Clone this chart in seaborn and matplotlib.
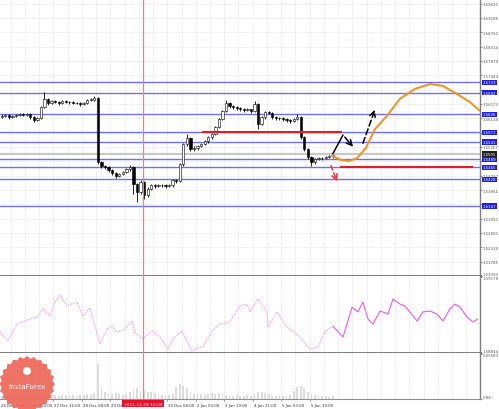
import numpy as np
import pandas as pd
import matplotlib
matplotlib.use("Agg")
import matplotlib.pyplot as plt
import matplotlib.transforms as mtransforms
from matplotlib.patches import Polygon, Circle
import seaborn as sns

# 2-hour bars, close / high / low
close = [1.5621, 1.5624, 1.5618, 1.5621, 1.5624, 1.5627, 1.5624, 1.5627, 1.5618, 1.5609,
         1.5615, 1.5648, 1.5673, 1.5660, 1.5667, 1.5663, 1.5660, 1.5667, 1.5663, 1.5663,
         1.5660, 1.5660, 1.5657, 1.5660, 1.5670, 1.5670, 1.5676, 1.5481, 1.5469, 1.5466,
         1.5457, 1.5448, 1.5439, 1.5445, 1.5451, 1.5460, 1.5466, 1.5414, 1.5390, 1.5421,
         1.5381, 1.5399, 1.5411, 1.5408, 1.5411, 1.5411, 1.5408, 1.5411, 1.5427, 1.5424,
         1.5475, 1.5536, 1.5554, 1.5521, 1.5524, 1.5530, 1.5536, 1.5545, 1.5557, 1.5566,
         1.5588, 1.5612, 1.5636, 1.5660, 1.5651, 1.5648, 1.5645, 1.5642, 1.5639, 1.5642,
         1.5636, 1.5657, 1.5597, 1.5618, 1.5633, 1.5630, 1.5618, 1.5615, 1.5615, 1.5612,
         1.5609, 1.5606, 1.5612, 1.5618, 1.5557, 1.5521, 1.5496, 1.5481, 1.5490, 1.5493,
         1.5493, 1.5496, 1.5500, 1.5500]
high = [1.5627, 1.5628, 1.5626, 1.5625, 1.5628, 1.5631, 1.5630, 1.5630, 1.5629, 1.5620,
        1.5618, 1.5652, 1.5694, 1.5676, 1.5670, 1.5668, 1.5666, 1.5670, 1.5669, 1.5667,
        1.5666, 1.5664, 1.5663, 1.5663, 1.5673, 1.5676, 1.5682, 1.5678, 1.5484, 1.5473,
        1.5468, 1.5459, 1.5450, 1.5449, 1.5455, 1.5463, 1.5472, 1.5469, 1.5418, 1.5427,
        1.5424, 1.5404, 1.5415, 1.5414, 1.5414, 1.5415, 1.5414, 1.5414, 1.5430, 1.5431,
        1.5478, 1.5540, 1.5566, 1.5556, 1.5529, 1.5533, 1.5539, 1.5548, 1.5561, 1.5570,
        1.5591, 1.5615, 1.5640, 1.5670, 1.5662, 1.5653, 1.5650, 1.5647, 1.5644, 1.5645,
        1.5643, 1.5667, 1.5659, 1.5622, 1.5637, 1.5636, 1.5632, 1.5620, 1.5619, 1.5617,
        1.5614, 1.5611, 1.5615, 1.5627, 1.5620, 1.5560, 1.5524, 1.5499, 1.5494, 1.5496,
        1.5497, 1.5499, 1.5502, 1.5503]
low = [1.5616, 1.5618, 1.5613, 1.5615, 1.5619, 1.5621, 1.5620, 1.5621, 1.5612, 1.5603,
       1.5606, 1.5612, 1.5645, 1.5655, 1.5657, 1.5659, 1.5655, 1.5657, 1.5659, 1.5658,
       1.5656, 1.5656, 1.5652, 1.5654, 1.5657, 1.5665, 1.5667, 1.5475, 1.5462, 1.5460,
       1.5451, 1.5442, 1.5433, 1.5435, 1.5441, 1.5448, 1.5455, 1.5384, 1.5360, 1.5385,
       1.5369, 1.5375, 1.5395, 1.5402, 1.5404, 1.5405, 1.5402, 1.5404, 1.5406, 1.5418,
       1.5419, 1.5470, 1.5530, 1.5515, 1.5515, 1.5519, 1.5526, 1.5532, 1.5540, 1.5551,
       1.5562, 1.5584, 1.5608, 1.5632, 1.5645, 1.5643, 1.5640, 1.5637, 1.5634, 1.5635,
       1.5631, 1.5632, 1.5581, 1.5594, 1.5613, 1.5626, 1.5613, 1.5610, 1.5610, 1.5606,
       1.5603, 1.5600, 1.5603, 1.5610, 1.5550, 1.5515, 1.5490, 1.5469, 1.5476, 1.5486,
       1.5487, 1.5489, 1.5492, 1.5494]
first_open = 1.5618
volume = [0.004, 0.004, 0.003, 0.004, 0.004, 0.003, 0.004, 0.004, 0.005, 0.004,
          0.005, 0.010, 0.009, 0.006, 0.005, 0.005, 0.004, 0.005, 0.005, 0.004,
          0.005, 0.004, 0.005, 0.005, 0.006, 0.005, 0.007, 0.042, 0.015, 0.008,
          0.007, 0.006, 0.007, 0.006, 0.005, 0.006, 0.008, 0.012, 0.013, 0.010,
          0.011, 0.009, 0.008, 0.007, 0.006, 0.005, 0.004, 0.005, 0.006, 0.014,
          0.018, 0.016, 0.013, 0.008, 0.006, 0.007, 0.006, 0.005, 0.006, 0.007,
          0.006, 0.007, 0.006, 0.005, 0.004, 0.004, 0.005, 0.004, 0.004, 0.005,
          0.004, 0.006, 0.008, 0.009, 0.007, 0.006, 0.004, 0.004, 0.005, 0.004,
          0.004, 0.005, 0.010, 0.015, 0.016, 0.013, 0.009, 0.006, 0.005, 0.004,
          0.004, 0.004, 0.003, 0.004]

# forecast curve (hours, price)
fc_hours = [186.5, 191.6, 196.1, 200.6, 205.6, 210.7, 217.4, 224.7, 233.1, 241.6, 248.9, 256.7, 264.0, 269.7]
fc_price = [1.5500, 1.5487, 1.5484, 1.5493, 1.5524, 1.5581, 1.5621, 1.5673, 1.5703, 1.5718, 1.5712, 1.5688, 1.5663, 1.5636]

# support / resistance levels
levels = [1.5723, 1.5692, 1.5626, 1.5571, 1.5541, 1.5489, 1.5465, 1.5428, 1.5347]
current_price = 1.5505
red_upper = 1.5573
red_lower = 1.5466

# indicator line (hours, value)
ind_hours = [0, 4.5, 9.6, 16.9, 20.8, 24.2, 28.1, 30.9, 33.7, 37.6, 43.3, 46.6, 50.6, 56.2, 60.1,
             62.9, 65.7, 70.2, 74.2, 75.8, 79.8, 85.4, 89.9, 94.4, 97.2, 102.2, 107.9, 112.4, 114.0,
             119.1, 123.6, 129.2, 134.8, 138.8, 140.4, 144.9, 150.0, 150.6, 155.6, 161.2, 166.9,
             174.2, 178.7, 182.6, 187.1, 192.7, 197.8, 201.1, 203.9, 206.7, 209.6, 213.5, 218.0,
             220.8, 224.7, 227.5, 230.3, 234.3, 237.6, 241.6, 245.5, 248.9, 252.8, 255.6, 258.4,
             262.4, 265.7, 268.5]
ind_value = [1.58935, 1.58896, 1.58969, 1.58991, 1.58999, 1.59034, 1.59004, 1.59064, 1.59094,
             1.59047, 1.59064, 1.59004, 1.59038, 1.58883, 1.58948, 1.58960, 1.58935, 1.58948,
             1.58982, 1.58935, 1.58904, 1.58939, 1.58913, 1.58861, 1.58904, 1.58939, 1.58853,
             1.58870, 1.58870, 1.58939, 1.58969, 1.58978, 1.59047, 1.59055, 1.59021, 1.59077,
             1.59021, 1.58956, 1.59021, 1.58956, 1.58926, 1.58861, 1.58870, 1.58935, 1.58960,
             1.58913, 1.59042, 1.59021, 1.59064, 1.58991, 1.58969, 1.59025, 1.59012, 1.59077,
             1.59055, 1.59047, 1.59021, 1.58982, 1.59021, 1.59025, 1.59012, 1.58982, 1.59034,
             1.59055, 1.59042, 1.58999, 1.58978, 1.58991]

price_ticks = ["1.51350", "1.51785", "1.52220", "1.52656", "1.53091", "1.53526", "1.53961",
               "1.54397", "1.54832", "1.55267", "1.55703", "1.56138", "1.56573", "1.57008",
               "1.57444", "1.57879", "1.58314", "1.58750", "1.59185", "1.59620"]
time_labels = ["26 Dec 08:00", "27 Dec 00:00", "27 Dec 16:00", "28 Dec 08:00", "29 Dec 00:00",
               "29 Dec 16:00", "30 Dec 08:00", "2 Jan 00:00", "3 Jan 19:00", "4 Jan 11:00",
               "5 Jan 03:00", "5 Jan 19:00"]
cursor_hour = 80.3
cursor_label = "2011.12.29 10:00"

sns.set_style("white")
plt.rcParams['font.family'] = ['DejaVu Sans']

W, H = 499, 410
FS = 2.8
fig = plt.figure(figsize=(W / 100, H / 100), dpi=100)
fig.patch.set_facecolor("white")
right = 480 / W
ax = fig.add_axes([0, 1 - 277 / H, right, 277 / H])
ax2 = fig.add_axes([0, 1 - 354 / H, right, 77 / H])
ax3 = fig.add_axes([0, 1 - 400 / H, right, 46 / H])

xmax = 269.7
grid_x = np.arange(6, xmax, 8)
for a in (ax, ax2, ax3):
    a.set_xlim(0, xmax)
    a.set_facecolor("white")
    for s in ("left", "top"):
        a.spines[s].set_visible(False)
    a.spines["right"].set_color("#808080")
    a.spines["right"].set_linewidth(1)
    a.spines["bottom"].set_color("#707070")
    a.spines["bottom"].set_linewidth(2)
    a.set_xticks([])
    a.yaxis.tick_right()
    a.tick_params(axis="y", labelsize=FS, colors="#555555", length=1.5, width=0.5, pad=0.6)
    for gx in grid_x:
        a.axvline(gx, color="#d4d4d4", lw=0.5, ls=(0, (1, 1.5)), zorder=0)

# ---- main price panel
tick_vals = [float(t) for t in price_ticks]
ax.set_ylim(1.5135, 1.5976)
ax.set_yticks(tick_vals)
ax.set_yticklabels(price_ticks)
ax.get_yticklabels()[0].set_va("bottom")
# tick labels sitting under the level boxes are covered in the terminal
boxed = levels + [current_price]
for tl, tv in zip(ax.get_yticklabels(), tick_vals):
    if min(abs(tv - b) for b in boxed) < 0.0009:
        tl.set_visible(False)
for ty in tick_vals:
    ax.axhline(ty, color="#d4d4d4", lw=0.5, ls=(0, (1, 1.5)), zorder=0)

for lv in levels:
    ax.axhline(lv, color="#7070ee", lw=1.0, zorder=2)
ax.axhline(current_price, color="#c8c8c8", lw=1.6, zorder=1)

bars = pd.DataFrame({"close": close, "high": high, "low": low})
bars["open"] = [first_open] + close[:-1]
bars["hour"] = 2 * np.arange(len(bars)) + 1
ax.vlines(bars["hour"], bars["low"], bars["high"], color="black", lw=0.6, zorder=4)
up = bars["close"] >= bars["open"]
body_lo = bars[["open", "close"]].min(axis=1)
body_h = (bars["close"] - bars["open"]).abs().clip(lower=0.00012)
ax.bar(bars["hour"][up], body_h[up], bottom=body_lo[up], width=1.3,
       color="white", edgecolor="black", linewidth=0.4, zorder=5)
ax.bar(bars["hour"][~up], body_h[~up], bottom=body_lo[~up], width=1.3,
       color="black", edgecolor="black", linewidth=0.4, zorder=5)

ax.hlines(red_upper, 113.5, 192, color="#e02020", lw=1.5, zorder=6)
ax.hlines(red_lower, 191, 265.7, color="#e02020", lw=1.5, zorder=6)

fc = pd.DataFrame({"hour": fc_hours, "price": fc_price})
sns.lineplot(data=fc, x="hour", y="price", ax=ax, color="#f0952a", lw=1.5, zorder=7)

# scenario arrows
ax.plot([187.0, 192.7], [1.5506, 1.5563], color="black", lw=1.1, zorder=8)
ax.annotate("", xy=(199.4, 1.5521), xytext=(192.7, 1.5563),
            arrowprops=dict(arrowstyle="->", color="black", lw=1.1), zorder=8)
ax.annotate("", xy=(211.2, 1.5648), xytext=(203.4, 1.5530),
            arrowprops=dict(arrowstyle="->", color="black", lw=1.1, ls=(0, (4, 2))), zorder=8)
ax.annotate("", xy=(189.9, 1.5414), xytext=(185.4, 1.5478),
            arrowprops=dict(arrowstyle="->", color="#e83030", lw=1.1, ls=(0, (3, 2))), zorder=8)

blend = mtransforms.blended_transform_factory(ax.transAxes, ax.transData)
for lv in levels:
    ax.text(1.006, lv, f"{lv:.4f}", transform=blend, ha="left", va="center", fontsize=FS,
            color="white", clip_on=False, zorder=10,
            bbox=dict(boxstyle="square,pad=0.2", fc="#2020e0", ec="none"))
ax.text(1.006, current_price, f"{current_price:.4f}", transform=blend, ha="left", va="center",
        fontsize=FS, color="white", clip_on=False, zorder=11,
        bbox=dict(boxstyle="square,pad=0.2", fc="#202020", ec="none"))

# ---- indicator panel
ax2.set_ylim(1.58844, 1.59176)
ax2.set_yticks([1.59176, 1.58844])
ax2.set_yticklabels(["1.59176", "1.58844"])
ax2.get_yticklabels()[0].set_va("top")
ax2.get_yticklabels()[1].set_va("bottom")
ind = pd.DataFrame({"hour": ind_hours, "value": ind_value})
old = ind[ind["hour"] <= 187.1]
new = ind[ind["hour"] >= 187.1]
sns.lineplot(data=old, x="hour", y="value", ax=ax2, color="#f4a6f4", lw=0.8, ls=(0, (1.5, 0.8)))
sns.lineplot(data=new, x="hour", y="value", ax=ax2, color="#ee55ee", lw=0.8)

# ---- volume panel
ax3.set_ylim(0, 0.05583)
ax3.set_yticks([0.05583, 0.0])
ax3.set_yticklabels(["0.05583", "0.00"])
ax3.get_yticklabels()[0].set_va("top")
ax3.get_yticklabels()[1].set_va("bottom")
ax3.spines["bottom"].set_linewidth(0.8)
ax3.spines["bottom"].set_color("#909090")
ax3.bar(bars["hour"], volume, width=1.0, color="#dcdcdc", edgecolor="none", zorder=1)

for a in (ax, ax2, ax3):
    a.set_xlabel("")
    a.set_ylabel("")
    a.axvline(cursor_hour, color="#f08080", lw=0.9, zorder=9)

# time axis labels (the one under the cursor box is covered)
tb = mtransforms.blended_transform_factory(ax3.transData, ax3.transAxes)
for k, lab in enumerate(time_labels):
    h = max(-2 + 16 * k, 0)
    if abs(h - cursor_hour) < 8:
        continue
    ax3.text(h + 0.6, -0.08, lab, transform=tb, ha="left", va="top", fontsize=FS,
             color="#333333", clip_on=False)
    if h > 0:
        ax3.plot([h, h], [0, -0.05], transform=tb, color="#808080", lw=0.5, clip_on=False)
ax3.text(cursor_hour, -0.06, cursor_label, transform=tb, ha="center", va="top", fontsize=3.2,
         color="white", clip_on=False, zorder=12,
         bbox=dict(boxstyle="square,pad=0.35", fc="#e8102a", ec="none"))

# logo overlay (pixel coordinates)
ov = fig.add_axes([0, 0, 1, 1], zorder=20)
ov.set_xlim(0, W)
ov.set_ylim(H, 0)
ov.axis("off")
ang = np.linspace(0, 2 * np.pi, 49)
rad = np.where(np.arange(49) % 2 == 0, 28, 25.5)
cx, cy = 27, 385
ov.add_patch(Polygon(np.c_[cx + rad * np.cos(ang), cy + rad * np.sin(ang)],
                     closed=True, fc="#ee6b5c", ec="none", alpha=0.95))
ov.add_patch(Circle((cx, cy - 13), 4, fc="white", ec="none"))
ov.text(cx, cy + 2, "InstaForex", ha="center", va="center", fontsize=5.2, color="white")

fig.savefig("out.png", dpi=100, facecolor="white")
